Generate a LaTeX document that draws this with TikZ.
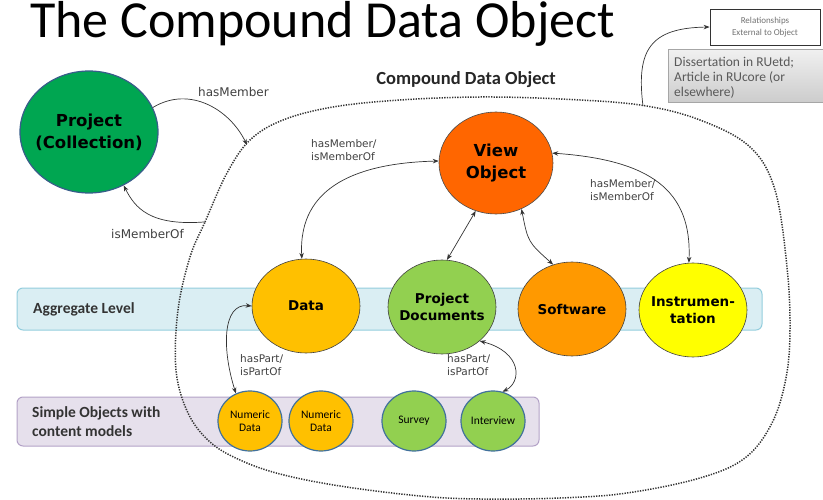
\documentclass[tikz,border=0pt]{standalone}
\usepackage{fontspec}
\setmainfont{Carlito}
\newfontfamily\dv{DejaVu Sans}
\usetikzlibrary{shapes.geometric,arrows.meta}
\definecolor{projgreen}{HTML}{00A651}
\definecolor{projborder}{HTML}{385D8A}
\definecolor{vieworange}{HTML}{FF6600}
\definecolor{datayellow}{HTML}{FFC000}
\definecolor{docgreen}{HTML}{92D050}
\definecolor{softorange}{HTML}{FF9900}
\definecolor{instyellow}{HTML}{FFFF00}
\definecolor{smallborder}{HTML}{41719C}
\definecolor{aggfill}{HTML}{DAEEF3}
\definecolor{aggborder}{HTML}{93CDDD}
\definecolor{simplefill}{HTML}{E6E0EC}
\definecolor{simpleborder}{HTML}{B3A2C7}
\definecolor{labelgray}{HTML}{404040}
\definecolor{boxgray}{HTML}{595959}
\begin{document}
\begin{tikzpicture}[x=1pt,y=-1pt,
  bubble/.style={ellipse, draw=black!75, line width=0.6pt, inner sep=-8pt, align=center,
    minimum width=108pt, minimum height=94pt, font=\dv\bfseries\fontsize{13.5}{17}\selectfont},
  bigbubble/.style={ellipse, inner sep=-8pt, align=center, font=\dv\bfseries\fontsize{16.5}{22}\selectfont},
  smallbubble/.style={ellipse, draw=smallborder, line width=1.2pt, inner sep=-8pt, align=center,
    minimum width=64pt, minimum height=60pt, font=\fontsize{11.5}{13}\selectfont},
  band/.style={rounded corners=6pt, line width=1pt},
  bandtext/.style={font=\bfseries\fontsize{15.5}{19}\selectfont, text=black!80, align=left, anchor=west, inner sep=0pt},
  rel/.style={font=\dv\fontsize{10.5}{13}\selectfont, text=labelgray, align=left, anchor=north west, inner sep=0pt},
  relbig/.style={font=\dv\fontsize{12}{14}\selectfont, text=labelgray, anchor=west, inner sep=0pt},
  conn/.style={line width=0.7pt, black!80, {Stealth[length=6pt,width=4.5pt]}-{Stealth[length=6pt,width=4.5pt]}},
  oneway/.style={line width=0.7pt, black!80, -{Stealth[length=6pt,width=4.5pt]}},
  blob/.style={line width=1.5pt, black!80, dash pattern=on 1.3pt off 1.3pt}
]
\useasboundingbox (0,0) rectangle (823,500);

% title
\node[anchor=base west, inner sep=0pt, font=\fontsize{52}{60}\selectfont] (title) at (30,38) {The Compound Data Object};

% bands
\draw[band, fill=aggfill, draw=aggborder] (17,288) rectangle (762,330);
\node[bandtext] (agglbl) at (33,309) {Aggregate Level};
\draw[band, fill=simplefill, draw=simpleborder] (17,397) rectangle (539,446);
\node[bandtext] (simplelbl) at (32,422) {Simple Objects with\\content models};

% compound boundary
\draw[blob] plot[smooth cycle, tension=0.6] coordinates {
 (190,257) (205,222) (227,173) (250,140) (283,120) (333,107) (400,100) (480,97) (560,99)
 (640,105) (700,120) (750,147) (775,190) (787,267) (790,330) (786,378) (772,423) (745,458)
 (700,478) (627,493) (560,498) (480,499) (420,496) (340,486) (280,474) (240,460) (210,442)
 (188,413) (176,370) (178,310)};
\node[font=\bfseries\fontsize{18.5}{21}\selectfont, text=black!85] (cdolbl) at (466,80) {Compound Data Object};

% external boxes
\node[draw=black!80, line width=0.8pt, fill=white, minimum width=110pt, minimum height=36pt, inner sep=0pt,
  align=center, font=\fontsize{9}{12}\selectfont, text=black!55] (relbox) at (765,27) {Relationships\\External to Object};
\shade[top color=gray!12, bottom color=gray!40, draw=gray!70, line width=1pt] (668,50) rectangle (823,103);
\node[anchor=north west, inner sep=0pt, align=left, font=\fontsize{13.5}{15}\selectfont, text=boxgray] (disstext) at (674,57)
  {Dissertation in RUetd;\\Article in RUcore (or\\elsewhere)};
\coordinate (extstart) at (643,106);
\draw[oneway] (extstart) .. controls (636,50) and (650,28) .. (relbox.west);

% main nodes
\node[bigbubble, fill=projgreen, draw=projborder, line width=1.2pt, minimum width=138pt, minimum height=122pt] (proj) at (89,132) {Project\\(Collection)};
\node[bigbubble, fill=vieworange, draw=black!70, line width=0.6pt, minimum width=114pt, minimum height=102pt] (view) at (496,163) {View\\Object};

\node[bubble, fill=datayellow] (data) at (306,306) {Data};
\node[bubble, fill=docgreen] (docs) at (442,307) {Project\\Documents};
\node[bubble, fill=softorange] (soft) at (572,309) {Software};
\node[bubble, fill=instyellow] (inst) at (693,310) {Instrumen-\\tation};

\node[smallbubble, fill=datayellow] (num1) at (250,421) {Numeric\\Data};
\node[smallbubble, fill=datayellow] (num2) at (321,421) {Numeric\\Data};
\node[smallbubble, fill=docgreen] (survey) at (414,421) {Survey};
\node[smallbubble, fill=docgreen] (interview) at (493,421) {Interview};

% project <-> compound object
\coordinate (cdoin) at (247,145);
\coordinate (cdoout) at (204,222);
\draw[oneway] (proj.21) .. controls (190,85) and (230,110) .. (cdoin);
\draw[oneway] (cdoout) .. controls (150,226) and (135,208) .. (proj.-57);
\node[relbig] (hasmem) at (198,92) {hasMember};
\node[relbig] (ismem) at (111,234) {isMemberOf};

% view object connectors
\draw[conn] (data.95) .. controls (298,185) and (360,163) .. (view.178);
\draw[conn] (view.10) .. controls (650,160) and (692,190) .. (inst.95);
\draw[conn] (view.-113) .. controls (462,235) .. (docs.84);
\draw[conn] (view.-61) .. controls (528,242) .. (soft.113);
\node[rel] (lbl1) at (311,139) {hasMember/\\isMemberOf};
\node[rel] (lbl2) at (590,179) {hasMember/\\isMemberOf};

% part connectors
\draw[conn] (num1.117) .. controls (222,350) and (222,303) .. (data.180);
\draw[conn] (docs.-42) .. controls (522,352) and (522,382) .. (interview.72);
\node[rel] (lbl3) at (240,354) {hasPart/\\isPartOf};
\node[rel] (lbl4) at (447,354) {hasPart/\\isPartOf};
\end{tikzpicture}
\end{document}
